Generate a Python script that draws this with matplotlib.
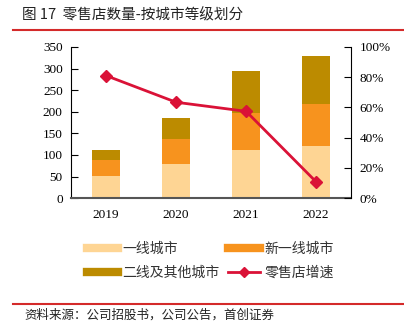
import numpy as np
import matplotlib
matplotlib.use("Agg")
import matplotlib.pyplot as plt
from matplotlib.lines import Line2D

plt.rcParams['font.family'] = ['Liberation Serif', 'Noto Sans CJK SC', 'DejaVu Sans']

years = ['2019', '2020', '2021', '2022']
tier1 = [52, 80, 111, 121]
new_tier1 = [36, 56, 85, 96]
tier2_other = [23, 49, 98, 112]
growth = [0.81, 0.634, 0.574, 0.108]

c_light = '#FED594'
c_orange = '#F7931E'
c_gold = '#BC8B00'
c_red = '#DA1237'
cjk = ['Noto Sans CJK SC', 'DejaVu Sans']

fig = plt.figure(figsize=(4.04, 3.28), dpi=100)
ax = fig.add_axes([0.176, 0.396, 0.693, 0.461])
x = np.arange(len(years))
w = 0.39
b1 = np.array(tier1)
b2 = b1 + np.array(new_tier1)
ax.bar(x, tier1, w, color=c_light)
ax.bar(x, new_tier1, w, bottom=b1, color=c_orange)
ax.bar(x, tier2_other, w, bottom=b2, color=c_gold)
ax.set_xlim(-0.5, 3.5)
ax.set_ylim(0, 350)
ax.set_yticks(range(0, 351, 50))
ax.set_xticks(x)
ax.set_xticklabels(years)
ax.tick_params(axis='y', direction='in', length=5, labelsize=9.5, pad=6)
ax.tick_params(axis='x', length=0, labelsize=9.5, pad=8)
for s in ['top', 'right']:
    ax.spines[s].set_visible(False)
ax.spines['bottom'].set_color('#555555')
ax.spines['bottom'].set_linewidth(1.5)

ax2 = ax.twinx()
ax2.plot(x, growth, color=c_red, lw=2, marker='D', ms=6)
ax2.set_ylim(0, 1)
ax2.set_yticks(np.arange(0, 1.01, 0.2))
ax2.set_yticklabels(['%d%%' % v for v in range(0, 101, 20)])
ax2.tick_params(axis='y', direction='in', length=5, labelsize=9.5, pad=6)
for s in ['top', 'left', 'bottom']:
    ax2.spines[s].set_visible(False)

# legend fills column by column
handles = [
    Line2D([], [], color=c_light, lw=6),
    Line2D([], [], color=c_gold, lw=6),
    Line2D([], [], color=c_orange, lw=6),
    Line2D([], [], color=c_red, lw=2, marker='D', ms=5),
]
labels = ['一线城市', '二线及其他城市', '新一线城市', '零售店增速']
leg = fig.legend(handles, labels, ncol=2, loc='center', bbox_to_anchor=(0.52, 0.205),
                 frameon=False, handlelength=2.3, columnspacing=0.6, handletextpad=0.3,
                 labelspacing=0.75, prop={'family': cjk, 'size': 10})
for t in leg.get_texts():
    t.set_color('#333333')

fig.text(0.055, 0.955, '图 17  零售店数量-按城市等级划分', fontsize=10.5, va='center',
         family=cjk, color='#222222')
fig.add_artist(Line2D([0.032, 1.0], [0.91, 0.91], color='#D42A2A', lw=1.5))
fig.add_artist(Line2D([0.032, 1.0], [0.073, 0.073], color='#D42A2A', lw=1.5))
fig.text(0.06, 0.038, '资料来源：公司招股书，公司公告，首创证券', fontsize=9, va='center',
         family=cjk, style='italic', color='#222222')

fig.savefig('out.png', dpi=100)
